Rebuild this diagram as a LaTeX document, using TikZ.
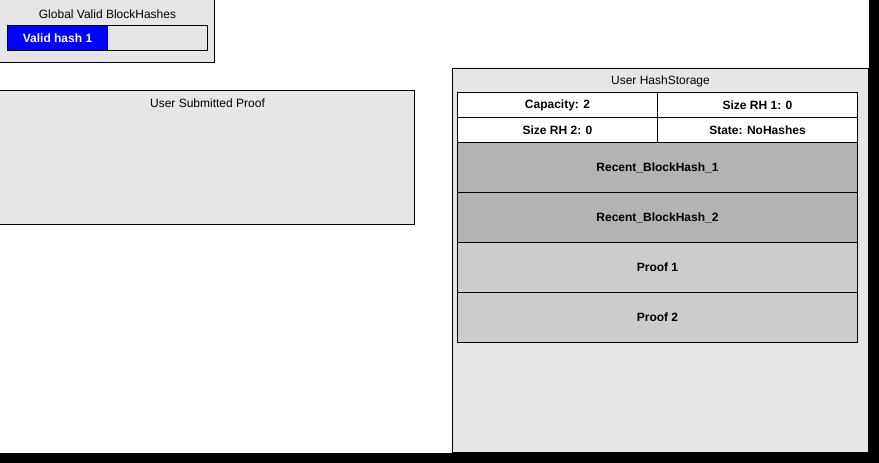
\documentclass[tikz,border=0pt]{standalone}
\usepackage{fontspec}
\setmainfont{Liberation Sans}
\definecolor{boxgray}{HTML}{E6E6E6}
\definecolor{rhgray}{HTML}{B3B3B3}
\definecolor{prgray}{HTML}{CCCCCC}
\definecolor{hashblue}{HTML}{0000FF}
\begin{document}
\begin{tikzpicture}[x=0.75pt,y=-0.75pt,
  container/.style={draw=black,fill=boxgray,line width=0.75pt},
  cell/.style={draw=black,line width=0.75pt},
  lbl/.style={font=\fontsize{9}{10.8}\selectfont,inner sep=0pt},
  blbl/.style={font=\fontsize{9}{10.8}\selectfont\bfseries,inner sep=0pt}]
\useasboundingbox (0,0) rectangle (879,463);
\fill[black] (0,0) rectangle (879,463);
\fill[white] (0,0) rectangle (869,453);
\begin{scope}[shift={(0.5,0.5)}]
% Global Valid BlockHashes
\draw[container] (-1,-1) rectangle (214,62);
\node[lbl] (gtitle) at (107,14) {Global Valid BlockHashes};
\draw[cell,fill=boxgray] (7,25) rectangle (207,50);
\fill[hashblue] (7,25) rectangle (107,50);
\draw[cell] (7,25) rectangle (207,50);
\draw[cell] (107,25) -- (107,50);
\node[blbl,text=white] (vh1) at (57,37.5) {Valid hash 1};
% User Submitted Proof
\draw[container] (-1,90) rectangle (414,224);
\node[lbl] (usp) at (207,103) {User Submitted Proof};
% User HashStorage
\draw[container] (452,68) rectangle (868,452);
\node[lbl] (uhs) at (660,81) {User HashStorage};
\draw[cell,fill=white] (457,92) rectangle (657,117);
\draw[cell,fill=white] (657,92) rectangle (857,117);
\draw[cell,fill=white] (457,117) rectangle (657,142);
\draw[cell,fill=white] (657,117) rectangle (857,142);
\node[blbl] (cap) at (557,104.5) {Capacity: 2};
\node[blbl] (srh1) at (757,104.5) {Size RH 1: 0};
\node[blbl] (srh2) at (557,129.5) {Size RH 2: 0};
\node[blbl] (state) at (757,129.5) {State: NoHashes};
\draw[cell,fill=rhgray] (457,142) rectangle (857,192);
\draw[cell,fill=rhgray] (457,192) rectangle (857,242);
\draw[cell,fill=prgray] (457,242) rectangle (857,292);
\draw[cell,fill=prgray] (457,292) rectangle (857,342);
\node[blbl] (rb1) at (657,167) {Recent\_BlockHash\_1};
\node[blbl] (rb2) at (657,217) {Recent\_BlockHash\_2};
\node[blbl] (p1) at (657,267) {Proof 1};
\node[blbl] (p2) at (657,317) {Proof 2};
\end{scope}
\end{tikzpicture}
\end{document}
